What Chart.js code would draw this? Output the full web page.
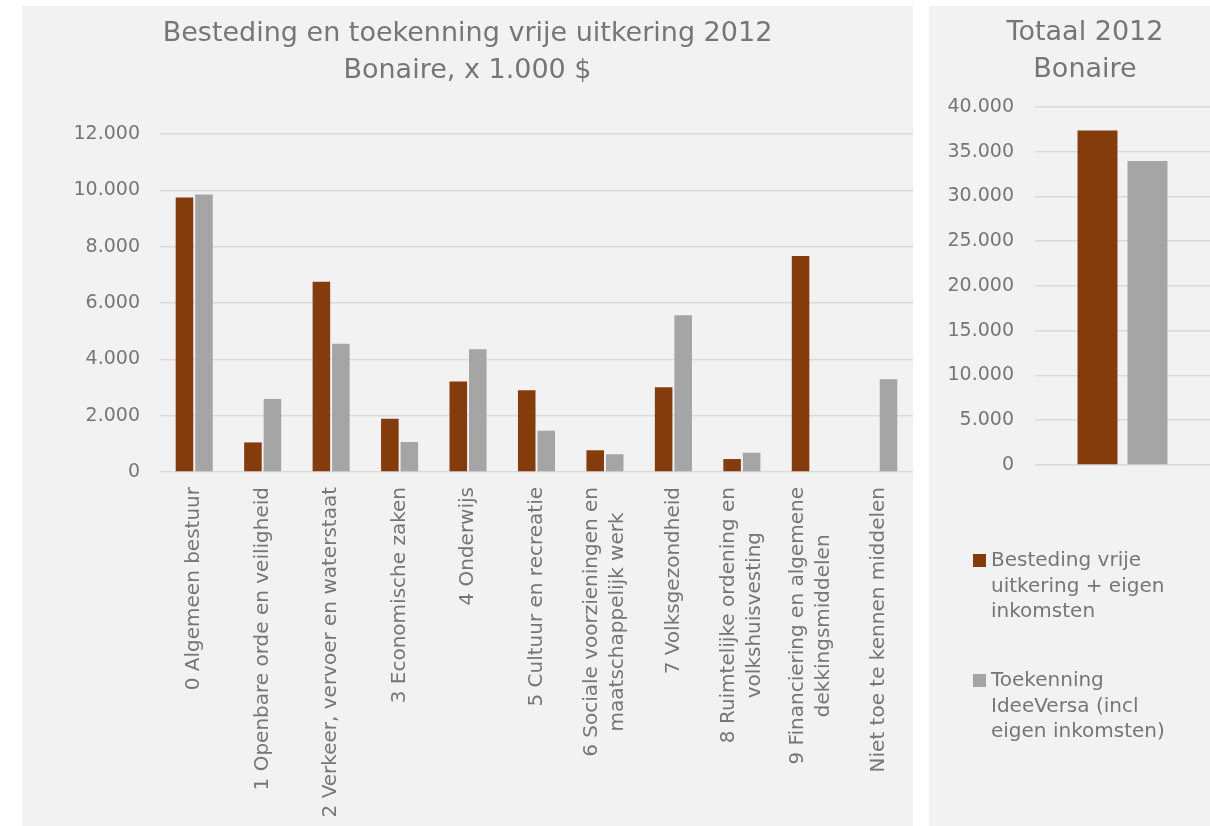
<!DOCTYPE html>
<html>
<head>
<meta charset="utf-8">
<script src="https://cdn.jsdelivr.net/npm/chart.js@4.4.1/dist/chart.umd.min.js"></script>
<style>
  html, body { margin: 0; padding: 0; background: #fff; overflow: hidden; }
  body { width: 1210px; height: 826px; position: relative; }
  #left { position: absolute; left: 22px; top: 6px; width: 891px; height: 820px; background: #f2f2f2; }
  #right { position: absolute; left: 929px; top: 6px; width: 312px; height: 820px; background: #f2f2f2; }
</style>
</head>
<body>
<div id="left"><canvas id="mainChart"></canvas></div>
<div id="right"><canvas id="totalChart"></canvas></div>
<script>
// categories (x axis), multi-line ones as arrays
var categories = [
    '0 Algemeen bestuur',
    '1 Openbare orde en veiligheid',
    '2 Verkeer, vervoer en waterstaat',
    '3 Economische zaken',
    '4 Onderwijs',
    '5 Cultuur en recreatie',
    ['6 Sociale voorzieningen en', 'maatschappelijk werk'],
    '7 Volksgezondheid',
    ['8 Ruimtelijke ordening en', 'volkshuisvesting'],
    ['9 Financiering en algemene', 'dekkingsmiddelen'],
    'Niet toe te kennen middelen'
];
// x 1.000 $
var besteding = [9740, 1050, 6750, 1890, 3210, 2900, 770, 3010, 460, 7670, null];
var toekenning = [9850, 2590, 4555, 1065, 4355, 1465, 630, 5560, 685, 0, 3290];

var totaalCategories = [''];
var totaalBesteding = [37350];
var totaalToekenning = [33950];

var mainTitle = ['Besteding en toekenning vrije uitkering 2012', 'Bonaire, x 1.000 $'];
var totaalTitle = ['Totaal 2012', 'Bonaire'];
var legendBesteding = ['Besteding vrije', 'uitkering + eigen', 'inkomsten'];
var legendToekenning = ['Toekenning', 'IdeeVersa (incl', 'eigen inkomsten)'];

var mainMax = 12000, mainStep = 2000;
var totaalMax = 40000, totaalStep = 5000;

var BROWN = '#843c0c';
var GREY = '#a5a5a5';
var TEXT = '#767676';
var GRID = '#d9d9d9';
var FONT = "'DejaVu Sans', sans-serif";

Chart.defaults.font.family = FONT;
Chart.defaults.color = TEXT;

function dots(v) {
    return String(v).replace(/\B(?=(\d{3})+(?!\d))/g, '.');
}

// rotated category labels, each line centred inside its label block (like Excel does)
var xLabels = {
    id: 'xLabels',
    afterDraw: function(chart) {
        var sc = chart.scales.x;
        var ctx = chart.ctx;
        var lh = 26;
        ctx.save();
        ctx.font = '20px ' + FONT;
        ctx.fillStyle = TEXT;
        ctx.textBaseline = 'middle';
        ctx.textAlign = 'center';
        chart.data.labels.forEach(function(lab, i) {
            var lines = [].concat(lab);
            var maxW = Math.max.apply(null, lines.map(function(l) { return ctx.measureText(l).width; }));
            ctx.save();
            ctx.translate(sc.getPixelForTick(i), sc.top + 15);
            ctx.rotate(-Math.PI / 2);
            lines.forEach(function(l, j) {
                ctx.fillText(l, -maxW / 2, (j - (lines.length - 1) / 2) * lh);
            });
            ctx.restore();
        });
        ctx.restore();
    }
};

new Chart('mainChart', {
    type: 'bar',
    data: {
        labels: categories,
        datasets: [
            { label: 'Besteding', data: besteding, backgroundColor: BROWN, categoryPercentage: 0.57, barPercentage: 0.9 },
            { label: 'Toekenning', data: toekenning, backgroundColor: GREY, categoryPercentage: 0.57, barPercentage: 0.9 }
        ]
    },
    options: {
        responsive: true,
        maintainAspectRatio: false,
        animation: false,
        layout: { padding: 0 },
        plugins: {
            legend: { display: false },
            tooltip: { enabled: false },
            title: {
                display: true,
                text: mainTitle,
                color: TEXT,
                font: { size: 27, weight: 'normal', lineHeight: 1.35 },
                padding: { top: 10, bottom: 45 }
            }
        },
        scales: {
            x: {
                grid: { display: false },
                border: { display: false },
                ticks: { display: false },
                afterFit: function(s) { s.height = 354; }
            },
            y: {
                min: 0,
                max: mainMax,
                grid: { color: GRID, lineWidth: 1.5, drawTicks: false },
                border: { display: false },
                ticks: {
                    stepSize: mainStep,
                    padding: 20,
                    color: TEXT,
                    font: { size: 19 },
                    callback: function(v) { return dots(v); }
                },
                afterFit: function(s) { s.width = 138; }
            }
        }
    },
    plugins: [xLabels]
});

var legendBox = {
    id: 'legendBox',
    afterDraw: function(chart) {
        var ctx = chart.ctx;
        var y = chart.chartArea.bottom + 96;
        ctx.save();
        ctx.font = '20px ' + FONT;
        ctx.textBaseline = 'middle';
        ctx.textAlign = 'left';
        chart.data.datasets.forEach(function(ds) {
            ctx.fillStyle = ds.backgroundColor;
            ctx.fillRect(44, y - 7, 13, 13);
            ctx.fillStyle = TEXT;
            ds.legendLines.forEach(function(line, i) {
                ctx.fillText(line, 62, y + i * 25.5);
            });
            y += 120;
        });
        ctx.restore();
    }
};

new Chart('totalChart', {
    type: 'bar',
    data: {
        labels: totaalCategories,
        datasets: [
            { label: 'Besteding', legendLines: legendBesteding, data: totaalBesteding, backgroundColor: BROWN, categoryPercentage: 0.571, barPercentage: 0.8 },
            { label: 'Toekenning', legendLines: legendToekenning, data: totaalToekenning, backgroundColor: GREY, categoryPercentage: 0.571, barPercentage: 0.8 }
        ]
    },
    options: {
        responsive: true,
        maintainAspectRatio: false,
        animation: false,
        layout: { padding: { bottom: 361 } },
        plugins: {
            legend: { display: false },
            tooltip: { enabled: false },
            title: {
                display: true,
                text: totaalTitle,
                color: TEXT,
                font: { size: 27, weight: 'normal', lineHeight: 1.35 },
                padding: { top: 9, bottom: 19 }
            }
        },
        scales: {
            x: { display: false },
            y: {
                min: 0,
                max: totaalMax,
                grid: { color: GRID, lineWidth: 1.5, drawTicks: false },
                border: { display: false },
                ticks: {
                    stepSize: totaalStep,
                    padding: 21,
                    color: TEXT,
                    font: { size: 19 },
                    callback: function(v) { return dots(v); }
                },
                afterFit: function(s) { s.width = 106; }
            },
            // empty strip on the right so the plot ends at the panel edge while the title stays centred on the panel
            yRight: {
                type: 'linear',
                position: 'right',
                display: true,
                grid: { display: false, drawTicks: false },
                border: { display: false },
                ticks: { display: false },
                afterFit: function(s) { s.width = 31; }
            }
        }
    },
    plugins: [legendBox]
});
</script>
</body>
</html>
